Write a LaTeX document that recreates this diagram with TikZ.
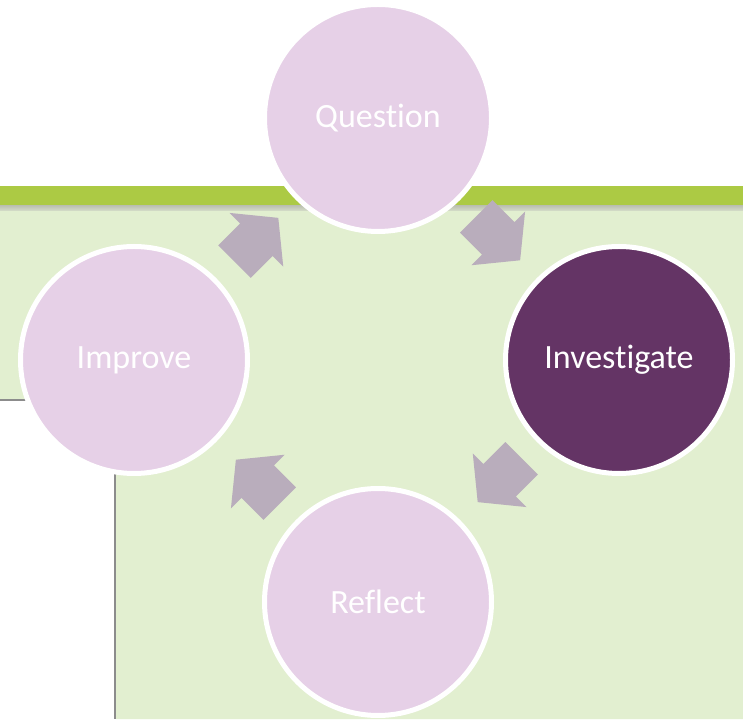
\documentclass[tikz,border=0pt]{standalone}
\usepackage{fontspec}
\setmainfont{Carlito}[Ligatures=NoCommon]
\usetikzlibrary{calc}
\definecolor{lightgreen}{HTML}{E2EFD0}
\definecolor{bargreen}{HTML}{ACCA44}
\definecolor{shadowtop}{HTML}{BEC3B3}
\definecolor{shadowbot}{HTML}{D6DEC9}
\definecolor{lightpurple}{HTML}{E6D0E7}
\definecolor{darkpurple}{HTML}{643465}
\definecolor{arrowgrey}{HTML}{B9ADBC}
\definecolor{linegrey}{HTML}{8C8C8C}
\tikzset{
  x=1pt, y=1pt,
  stage/.style={circle, minimum size=227pt, inner sep=0pt, draw=white, line width=5pt,
    text=white, font=\fontsize{34}{40}\selectfont},
  lightstage/.style={stage, fill=lightpurple},
  darkstage/.style={stage, fill=darkpurple},
  blockarrow/.style={fill=arrowgrey, draw=none}
}
\begin{document}
\begin{tikzpicture}
\useasboundingbox (0,0) rectangle (743,719);
\fill[white] (0,0) rectangle (743,719);
% light green panel
\fill[lightgreen] (0,508) -- (743,508) -- (743,0) -- (116,0) -- (116,319) -- (0,319) -- cycle;
% grey border lines
\draw[linegrey, line width=2.5pt] (0,319) -- (115,319) -- (115,0);
% green bar and its shadow
\fill[bargreen] (0,513) rectangle (743,533);
\shade[top color=shadowtop, bottom color=shadowbot] (0,508) rectangle (743,513);
% circles
\node[lightstage] (question) at (378,601) {Question};
\node[darkstage] (investigate) at (619,359) {Investigate};
\node[lightstage] (reflect) at (378,117) {Reflect};
\node[lightstage] (improve) at (134,359) {Improve};
% block arrows between stages
\coordinate (centre) at (378,359);
\foreach \a in {135,45,-45,-135}{
  \fill[blockarrow, shift={($(centre)+(\a:171)$)}, rotate=\a-90]
    (-32,-23) -- (-1,-23) -- (-1,-38) -- (30,0) -- (-1,38) -- (-1,23) -- (-32,23) -- cycle;
}
\end{tikzpicture}
\end{document}
